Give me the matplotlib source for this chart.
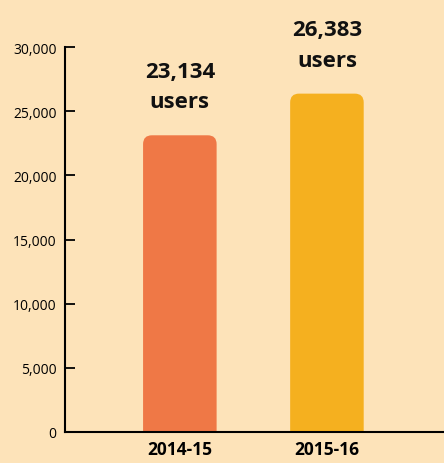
import matplotlib.pyplot as plt
from matplotlib.patches import FancyBboxPatch

years = ['2014-15', '2015-16']
users = [23134, 26383]
colors = ['#ef7846', '#f5b01f']
bg = '#fde3b9'

plt.rcParams['font.family'] = ['Open Sans', 'DejaVu Sans']

fig = plt.figure(figsize=(4.44, 4.64), dpi=100, facecolor=bg)
ax = fig.add_axes([0.146, 0.067, 0.854, 0.829], facecolor=bg)
ax.set_xlim(-0.782, 1.796)
ax.set_ylim(0, 30000)

w = 0.5
# pixels -> data scale, for rounded corners
aspect = (30000 / 385) / (1 / 147)
below = 2000  # start under the axis so bottom corners get clipped
for i, (v, c) in enumerate(zip(users, colors)):
    box = FancyBboxPatch((i - w / 2, -below), w, v + below,
                         boxstyle='round,pad=0,rounding_size=0.06',
                         mutation_aspect=aspect, fc=c, ec='none', lw=0)
    ax.add_patch(box)
    ax.annotate(f'{v:,}\nusers', (i, v), xytext=(0, 16.5), textcoords='offset points',
                ha='center', va='bottom', fontsize=16, fontweight='bold',
                linespacing=1.6, color='#111111')

ax.set_xticks(range(len(years)))
ax.set_xticklabels(years, fontsize=12.5, fontweight='bold')
ax.tick_params(axis='x', length=0, pad=6)
ax.set_yticks(range(0, 30001, 5000))
ax.set_yticklabels([f'{t:,}' for t in range(0, 30001, 5000)], fontsize=10)
ax.tick_params(axis='y', direction='in', length=7, width=1.3, pad=6)
for s in ['top', 'right']:
    ax.spines[s].set_visible(False)
for s in ['left', 'bottom']:
    ax.spines[s].set_linewidth(1.5)
    ax.spines[s].set_zorder(3)

fig.savefig('out.png', dpi=100, facecolor=bg)
